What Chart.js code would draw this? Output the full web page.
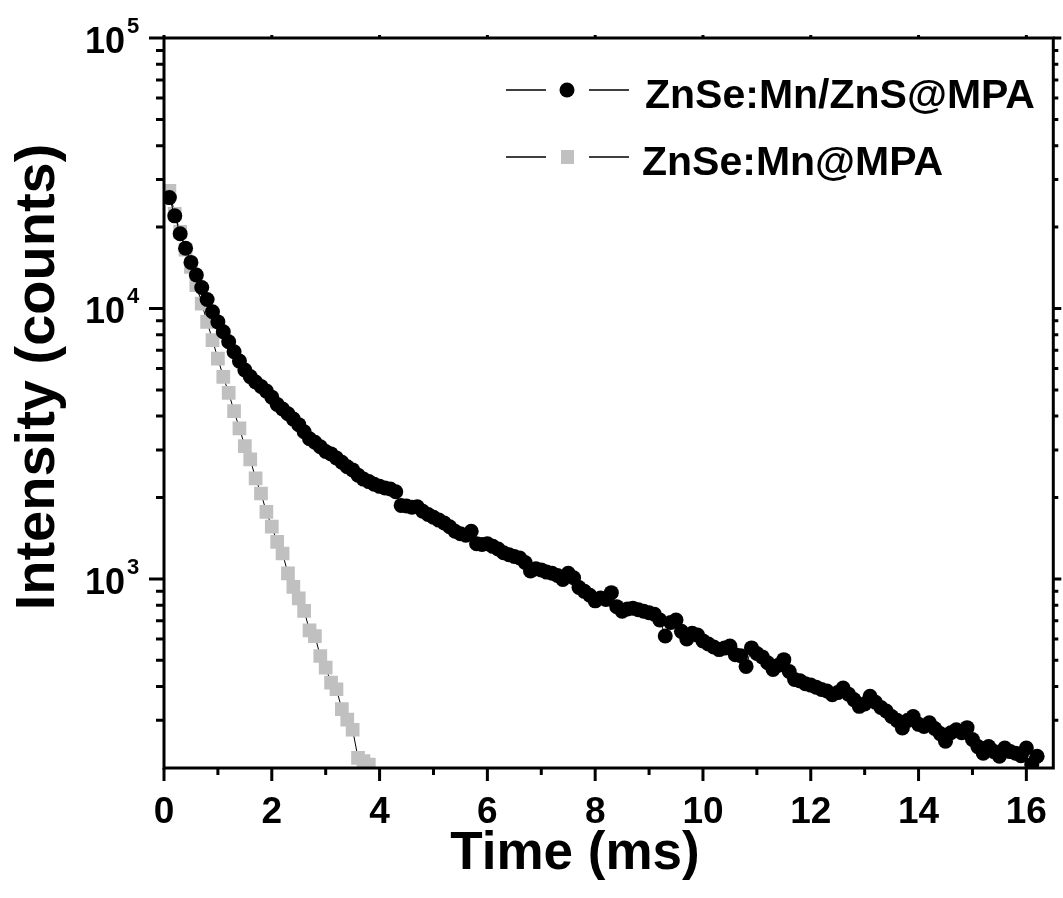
<!DOCTYPE html>
<html>
<head>
<meta charset="utf-8">
<script src="https://cdn.jsdelivr.net/npm/chart.js@4.4.0/dist/chart.umd.min.js"></script>
<style>
  html, body { margin: 0; padding: 0; background: #fff; }
  canvas { display: block; }
</style>
</head>
<body>
<canvas id="decay" width="1063" height="898"></canvas>
<script>
// sample times (ms)
const timeMs = [
  0.1, 0.2, 0.3, 0.4, 0.5, 0.6, 0.7, 0.8, 0.9, 1.0,
  1.1, 1.2, 1.3, 1.4, 1.5, 1.6, 1.7, 1.8, 1.9, 2.0,
  2.1, 2.2, 2.3, 2.4, 2.5, 2.6, 2.7, 2.8, 2.9, 3.0,
  3.1, 3.2, 3.3, 3.4, 3.5, 3.6, 3.7, 3.8, 3.9, 4.0,
  4.1, 4.2, 4.3, 4.4, 4.5, 4.6, 4.7, 4.8, 4.9, 5.0,
  5.1, 5.2, 5.3, 5.4, 5.5, 5.6, 5.7, 5.8, 5.9, 6.0,
  6.1, 6.2, 6.3, 6.4, 6.5, 6.6, 6.7, 6.8, 6.9, 7.0,
  7.1, 7.2, 7.3, 7.4, 7.5, 7.6, 7.7, 7.8, 7.9, 8.0,
  8.1, 8.2, 8.3, 8.4, 8.5, 8.6, 8.7, 8.8, 8.9, 9.0,
  9.1, 9.2, 9.3, 9.4, 9.5, 9.6, 9.7, 9.8, 9.9, 10.0,
  10.1, 10.2, 10.3, 10.4, 10.5, 10.6, 10.7, 10.8, 10.9, 11.0,
  11.1, 11.2, 11.3, 11.4, 11.5, 11.6, 11.7, 11.8, 11.9, 12.0,
  12.1, 12.2, 12.3, 12.4, 12.5, 12.6, 12.7, 12.8, 12.9, 13.0,
  13.1, 13.2, 13.3, 13.4, 13.5, 13.6, 13.7, 13.8, 13.9, 14.0,
  14.1, 14.2, 14.3, 14.4, 14.5, 14.6, 14.7, 14.8, 14.9, 15.0,
  15.1, 15.2, 15.3, 15.4, 15.5, 15.6, 15.7, 15.8, 15.9, 16.0,
  16.1, 16.2
];

// ZnSe:Mn/ZnS@MPA counts
const shellCounts = [
  25700, 22000, 18900, 16700, 14800, 13300, 11950, 10800, 9720, 8920,
  8200, 7530, 6920, 6390, 5920, 5600, 5350, 5150, 4950, 4700,
  4420, 4250, 4080, 3900, 3720, 3500, 3300, 3200, 3080, 2960,
  2900, 2800, 2700, 2600, 2530, 2420, 2340, 2290, 2240, 2200,
  2170, 2150, 2100, 1870, 1860, 1840, 1850, 1780, 1730, 1690,
  1650, 1610, 1560, 1500, 1470, 1450, 1500, 1350, 1340, 1350,
  1320, 1290, 1250, 1230, 1210, 1195, 1150, 1070, 1090, 1080,
  1060, 1050, 1030, 995, 1050, 1010, 930, 900, 870, 830,
  850, 840, 890, 790, 760, 775, 780, 770, 760, 750,
  740, 705, 615, 690, 705, 640, 600, 630, 620, 590,
  575, 560, 548, 555, 565, 525, 520, 475, 556, 530,
  515, 490, 463, 480, 503, 455, 425, 420, 410, 405,
  398, 390, 385, 373, 380, 395, 375, 358, 338, 345,
  368, 350, 335, 325, 310, 300, 281, 300, 310, 290,
  285, 294, 280, 268, 251, 270, 277, 270, 282, 255,
  240, 227, 240, 230, 221, 237, 230, 227, 222, 237,
  206, 221
];

// ZnSe:Mn@MPA counts (first 38 samples)
const coreCounts = [
  27200, 22400, 19200, 16500, 14250, 12200, 10430, 8920, 7640, 6530,
  5590, 4875, 4170, 3600, 3100, 2770, 2355, 2070, 1770, 1560,
  1372, 1242, 1048, 935, 847, 762, 646, 615, 519, 470,
  414, 391, 330, 302, 277, 218, 212, 206
];

const seriesNames = ['ZnSe:Mn/ZnS@MPA', 'ZnSe:Mn@MPA'];
const xMajorTicks = [0, 2, 4, 6, 8, 10, 12, 14, 16];
const xMinorTicks = [1, 3, 5, 7, 9, 11, 13, 15];
const yDecadeExp = [3, 4, 5];
const yMinorTicks = [300, 400, 500, 600, 700, 800, 900,
  2000, 3000, 4000, 5000, 6000, 7000, 8000, 9000,
  20000, 30000, 40000, 50000, 60000, 70000, 80000, 90000];

const FONT = '"Liberation Sans", Arial, Helvetica, sans-serif';

const toPoints = (xs, ys) => ys.map((v, i) => ({x: xs[i], y: v}));

// axes box, ticks, labels and legend, drawn from the chart's own scales
const decorations = {
  id: 'decorations',
  afterDatasetsDraw(chart) {
    const {ctx, chartArea: a, scales: {x, y}} = chart;
    ctx.save();
    ctx.strokeStyle = '#000';
    ctx.fillStyle = '#000';
    ctx.lineWidth = 3;
    ctx.lineCap = 'butt';
    ctx.strokeRect(a.left, a.top, a.right - a.left, a.bottom - a.top);

    ctx.beginPath();
    xMajorTicks.forEach(v => {
      const px = x.getPixelForValue(v);
      ctx.moveTo(px, a.bottom); ctx.lineTo(px, a.bottom + 13);
      ctx.moveTo(px, a.top); ctx.lineTo(px, a.top - 3);
    });
    xMinorTicks.forEach(v => {
      const px = x.getPixelForValue(v);
      ctx.moveTo(px, a.bottom); ctx.lineTo(px, a.bottom + 7);
    });
    yDecadeExp.forEach(e => {
      const py = y.getPixelForValue(Math.pow(10, e));
      ctx.moveTo(a.left, py); ctx.lineTo(a.left - 15, py);
      ctx.moveTo(a.right, py); ctx.lineTo(a.right + 8, py);
    });
    yMinorTicks.forEach(v => {
      const py = y.getPixelForValue(v);
      ctx.moveTo(a.left, py); ctx.lineTo(a.left - 8, py);
      ctx.moveTo(a.right, py); ctx.lineTo(a.right + 5, py);
    });
    ctx.stroke();

    // x tick labels
    ctx.font = 'bold 37px ' + FONT;
    ctx.textAlign = 'center';
    ctx.textBaseline = 'alphabetic';
    xMajorTicks.forEach(v => {
      ctx.fillText(String(v), x.getPixelForValue(v), a.bottom + 55);
    });

    // y tick labels 10^n
    yDecadeExp.forEach(e => {
      const py = y.getPixelForValue(Math.pow(10, e));
      ctx.font = 'bold 36px ' + FONT;
      ctx.textAlign = 'right';
      ctx.fillText('10', 125, py + 15);
      ctx.font = 'bold 22px ' + FONT;
      ctx.textAlign = 'left';
      ctx.fillText(String(e), 127, py - 5);
    });

    // axis titles
    ctx.font = 'bold 53px ' + FONT;
    ctx.textAlign = 'center';
    ctx.fillText('Time (ms)', 575, 869);
    ctx.save();
    ctx.translate(54, 377);
    ctx.rotate(-Math.PI / 2);
    ctx.font = 'bold 56px ' + FONT;
    ctx.fillText('Intensity (counts)', 0, 0);
    ctx.restore();

    // legend
    const rows = [
      {y: 90, text: seriesNames[0], tx: 645},
      {y: 157, text: seriesNames[1], tx: 642}
    ];
    rows.forEach((r, i) => {
      ctx.lineWidth = 1.5;
      ctx.beginPath();
      ctx.moveTo(506, r.y); ctx.lineTo(546, r.y);
      ctx.moveTo(589, r.y); ctx.lineTo(629, r.y);
      ctx.stroke();
      if (i === 0) {
        ctx.fillStyle = '#000';
        ctx.beginPath();
        ctx.arc(567, r.y, 7.5, 0, Math.PI * 2);
        ctx.fill();
      } else {
        ctx.fillStyle = '#c0c0c0';
        ctx.fillRect(561, r.y - 7, 13, 14);
      }
      ctx.fillStyle = '#000';
      ctx.font = 'bold 41px ' + FONT;
      ctx.textAlign = 'left';
      ctx.fillText(r.text, r.tx, r.y + 18);
    });
    ctx.restore();
  }
};

new Chart(document.getElementById('decay'), {
  type: 'line',
  data: {
    datasets: [
      {
        label: seriesNames[0],
        data: toPoints(timeMs, shellCounts),
        borderColor: '#000',
        borderWidth: 1,
        pointStyle: 'circle',
        pointRadius: 7.5,
        pointBorderWidth: 0,
        pointBackgroundColor: '#000',
        clip: 0
      },
      {
        label: seriesNames[1],
        data: toPoints(timeMs.slice(0, coreCounts.length), coreCounts),
        borderColor: '#000',
        borderWidth: 1,
        pointStyle: 'rect',
        pointRadius: 9.7,
        pointBorderWidth: 0,
        pointBackgroundColor: '#c0c0c0',
        clip: 0
      }
    ]
  },
  options: {
    responsive: false,
    devicePixelRatio: 1,
    animation: false,
    layout: { padding: { left: 164, right: 3, top: 38, bottom: 130 } },
    scales: {
      x: { type: 'linear', min: 0, max: 16.5, display: false },
      y: { type: 'logarithmic', min: 200, max: 100000, display: false }
    },
    plugins: {
      legend: { display: false },
      tooltip: { enabled: false }
    }
  },
  plugins: [decorations]
});
</script>
</body>
</html>
